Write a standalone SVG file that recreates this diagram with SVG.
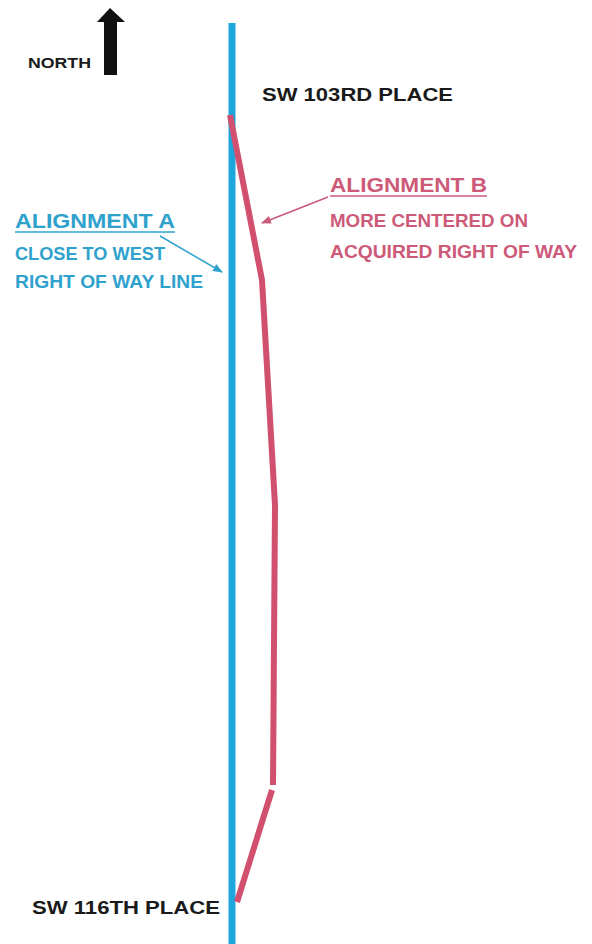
<svg xmlns="http://www.w3.org/2000/svg" width="592" height="944" viewBox="0 0 592 944">
<style>
text{font-family:"Liberation Sans",Arial,sans-serif;font-weight:bold;}
.blk{fill:#1a1a1a;}
.blue{fill:#2ea2cc;}
.red{fill:#cc5a78;}
</style>
<defs>
<marker id="ahA" markerWidth="10" markerHeight="8" refX="9" refY="4" orient="auto" markerUnits="userSpaceOnUse"><path d="M0,0 L10,4 L0,8 Z" fill="#2ea2cc"/></marker>
<marker id="ahB" markerWidth="10" markerHeight="8" refX="9" refY="4" orient="auto" markerUnits="userSpaceOnUse"><path d="M0,0 L10,4 L0,8 Z" fill="#cc5a78"/></marker>
</defs>
<rect width="592" height="944" fill="#ffffff"/>
<g id="north">
<path d="M104,75 L104,22 L97,22 L110,8 L125,22 L117,22 L117,75 Z" fill="#111"/>
<text class="blk" x="28" y="68" font-size="14" textLength="63" lengthAdjust="spacingAndGlyphs">NORTH</text>
</g>
<g id="alignmentA">
<line x1="232" y1="23" x2="232" y2="944" stroke="#1ea6dc" stroke-width="7"/>
</g>
<g id="alignmentB">
<polyline points="230,115 262,280 275,505 273,785" fill="none" stroke="#d0506e" stroke-width="6" stroke-linejoin="round"/>
<line x1="272" y1="790" x2="237" y2="902" stroke="#d0506e" stroke-width="6"/>
</g>
<g id="label-103">
<text class="blk" x="262" y="101" font-size="19" textLength="191" lengthAdjust="spacingAndGlyphs">SW 103RD PLACE</text>
</g>
<g id="label-116">
<text class="blk" x="32" y="914" font-size="19" textLength="188" lengthAdjust="spacingAndGlyphs">SW 116TH PLACE</text>
</g>
<g id="labelA">
<text class="blue" x="15" y="228" font-size="21" textLength="160" lengthAdjust="spacingAndGlyphs">ALIGNMENT A</text>
<line x1="15" y1="232" x2="175" y2="232" stroke="#2ea2cc" stroke-width="1.5"/>
<text class="blue" x="15" y="260" font-size="18.5" textLength="150" lengthAdjust="spacingAndGlyphs">CLOSE TO WEST</text>
<text class="blue" x="15" y="288" font-size="18.5" textLength="188" lengthAdjust="spacingAndGlyphs">RIGHT OF WAY LINE</text>
</g>
<g id="labelB">
<text class="red" x="330" y="192" font-size="21" textLength="157" lengthAdjust="spacingAndGlyphs">ALIGNMENT B</text>
<line x1="330" y1="196" x2="487" y2="196" stroke="#cc5a78" stroke-width="1.5"/>
<text class="red" x="330" y="227" font-size="18.5" textLength="198" lengthAdjust="spacingAndGlyphs">MORE CENTERED ON</text>
<text class="red" x="330" y="258" font-size="18.5" textLength="247" lengthAdjust="spacingAndGlyphs">ACQUIRED RIGHT OF WAY</text>
</g>
<g id="connectors">
<line x1="160" y1="236" x2="222" y2="272" stroke="#2ea2cc" stroke-width="1.5" marker-end="url(#ahA)"/>
<line x1="328" y1="197" x2="262" y2="223" stroke="#cc5a78" stroke-width="1.5" marker-end="url(#ahB)"/>
</g>
</svg>
